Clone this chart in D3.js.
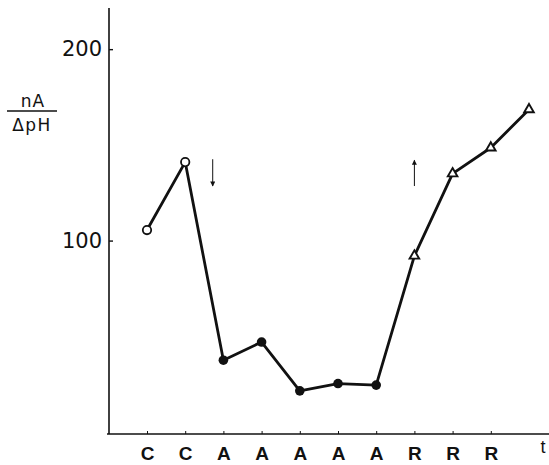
<!DOCTYPE html>
<html>
<head>
<meta charset="utf-8">
<script src="https://cdn.jsdelivr.net/npm/d3@7"></script>
<style>
  html, body { margin: 0; padding: 0; background: #fff; }
  svg { display: block; }
</style>
</head>
<body>
<svg id="chart" width="549" height="465"></svg>
<script>
// ---- data ----
const categories = ["C", "C", "A", "A", "A", "A", "A", "R", "R", "R", ""];
const values = [105.5, 141, 37.5, 47, 21.5, 25.3, 24.5, 92, 135, 148.5, 168.5];
const markerTypes = ["open", "open", "filled", "filled", "filled", "filled", "filled", "tri", "tri", "tri", "tri"];
const yTickValues = [100, 200];
const yTickLabels = ["100", "200"];
const arrows = [
  { at: 1.72, from: 142.5, to: 128.5 },
  { at: 7.0, from: 128.5, to: 142 }
];

const svg = d3.select("#chart");
const x = d3.scaleLinear().domain([0, 10]).range([147, 529]);
const y = d3.scaleLinear().domain([0, 221.5]).range([432, 8]);

const axisX0 = 109, axisY0 = 434;

// y axis
svg.append("line").attr("x1", axisX0).attr("x2", axisX0).attr("y1", 8).attr("y2", axisY0)
  .attr("stroke", "#111").attr("stroke-width", 1.6);
const yAxis = d3.axisLeft(y).tickValues(yTickValues)
  .tickFormat((d, i) => yTickLabels[i]).tickSizeInner(-4).tickSizeOuter(0).tickPadding(7);
const gy = svg.append("g").attr("transform", `translate(${axisX0},0)`).call(yAxis);
gy.select(".domain").remove();
gy.selectAll(".tick line").attr("stroke", "#111").attr("stroke-width", 1.4);
gy.selectAll(".tick text").attr("font-family", "DejaVu Sans, sans-serif")
  .attr("font-size", 21).attr("fill", "#111");

// x axis
svg.append("line").attr("x1", 107).attr("x2", 549).attr("y1", axisY0).attr("y2", axisY0)
  .attr("stroke", "#111").attr("stroke-width", 1.6);
const tickIdx = d3.range(10);
const xAxis = d3.axisBottom(x).tickValues(tickIdx)
  .tickFormat(i => categories[i]).tickSizeInner(-3).tickSizeOuter(0).tickPadding(13);
const gx = svg.append("g").attr("transform", `translate(0,${axisY0})`).call(xAxis);
gx.select(".domain").remove();
gx.selectAll(".tick line").attr("stroke", "#111").attr("stroke-width", 1);
gx.selectAll(".tick text").attr("font-family", "Liberation Sans, Arial, sans-serif")
  .attr("font-weight", "bold").attr("font-size", 19).attr("fill", "#111");

// "t" label
svg.append("text").attr("x", 543).attr("y", 453).attr("text-anchor", "middle")
  .attr("font-family", "Liberation Sans, Arial, sans-serif").attr("font-size", 18)
  .attr("fill", "#111").text("t");

// y label fraction
svg.append("text").attr("x", 33).attr("y", 107).attr("text-anchor", "middle")
  .attr("font-family", "DejaVu Sans, sans-serif").attr("font-size", 17)
  .attr("letter-spacing", 1).attr("fill", "#111").text("nA");
svg.append("line").attr("x1", 7).attr("x2", 57).attr("y1", 111).attr("y2", 111)
  .attr("stroke", "#111").attr("stroke-width", 1.5);
svg.append("text").attr("x", 32).attr("y", 131).attr("text-anchor", "middle")
  .attr("font-family", "DejaVu Sans, sans-serif").attr("font-size", 17)
  .attr("letter-spacing", 1.5).attr("fill", "#111").text("ΔpH");

// line
const line = d3.line().x((d, i) => x(i)).y(d => y(d));
svg.append("path").datum(values).attr("d", line)
  .attr("fill", "none").attr("stroke", "#111").attr("stroke-width", 2.8)
  .attr("stroke-linejoin", "round");

// markers
const pts = values.map((v, i) => ({ i, v, t: markerTypes[i] }));
svg.selectAll("circle.open").data(pts.filter(p => p.t === "open")).join("circle")
  .attr("class", "open").attr("cx", d => x(d.i)).attr("cy", d => y(d.v)).attr("r", 4.2)
  .attr("fill", "#fff").attr("stroke", "#111").attr("stroke-width", 1.8);
svg.selectAll("circle.filled").data(pts.filter(p => p.t === "filled")).join("circle")
  .attr("class", "filled").attr("cx", d => x(d.i)).attr("cy", d => y(d.v)).attr("r", 4.8)
  .attr("fill", "#111");
const tri = d3.symbol().type(d3.symbolTriangle).size(40);
svg.selectAll("path.tri").data(pts.filter(p => p.t === "tri")).join("path")
  .attr("class", "tri").attr("d", tri)
  .attr("transform", d => `translate(${x(d.i)},${y(d.v)})`)
  .attr("fill", "#fff").attr("stroke", "#111").attr("stroke-width", 1.9);

// arrows
const defs = svg.append("defs");
defs.append("marker").attr("id", "ah").attr("viewBox", "0 0 10 10")
  .attr("refX", 9).attr("refY", 5).attr("markerWidth", 8).attr("markerHeight", 5)
  .attr("orient", "auto").attr("markerUnits", "userSpaceOnUse")
  .append("path").attr("d", "M0,0 L10,5 L0,10 z").attr("fill", "#111");
svg.selectAll("line.arrow").data(arrows).join("line").attr("class", "arrow")
  .attr("x1", d => x(d.at)).attr("x2", d => x(d.at))
  .attr("y1", d => y(d.from)).attr("y2", d => y(d.to))
  .attr("stroke", "#111").attr("stroke-width", 1)
  .attr("marker-end", "url(#ah)");
</script>
</body>
</html>
